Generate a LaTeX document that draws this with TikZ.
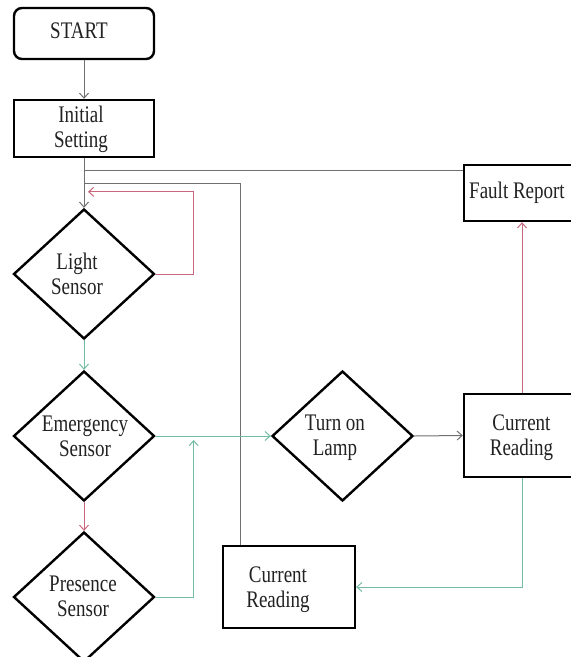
\documentclass[tikz,border=0pt]{standalone}
\usepackage{fontspec}
\setmainfont{Liberation Serif}
\usetikzlibrary{shapes.geometric,arrows.meta,calc}
\definecolor{cgray}{HTML}{707070}
\definecolor{cred}{HTML}{C8687E}
\definecolor{cgreen}{HTML}{74BCA6}
\definecolor{ctext}{HTML}{222222}
\newcommand\tx[1]{\scalebox{1}[1.25]{\begin{tabular}{@{}c@{}}#1\end{tabular}}}
\tikzset{
  box/.style={draw=black, line width=2.4pt, rectangle, inner sep=0pt},
  dia/.style={draw=black, line width=2.4pt, diamond, inner sep=0pt, minimum width=141pt, minimum height=130pt},
  conn/.style={line width=1pt, -{Straight Barb[length=5pt,width=9pt]}},
  plain/.style={line width=1pt},
  txt/.style={text=ctext, font=\fontsize{19}{20}\selectfont}
}
\begin{document}
\begin{tikzpicture}[x=1pt,y=-1pt]
\useasboundingbox (0,0) rectangle (571,657);
\fill[white] (0,0) rectangle (571,657);
% nodes
\node[box, rounded corners=8pt, minimum width=140pt, minimum height=51pt] (start) at (84,33.5) {};
\node[txt] (tstart) at (79,33) {\tx{START}};
\node[box, minimum width=140pt, minimum height=57pt] (init) at (84,128.5) {};
\node[txt] (tinit) at (81,130) {\tx{Initial\\Setting}};
\node[dia] (light) at (84,274) {};
\node[txt] (tlight) at (77,277) {\tx{Light\\Sensor}};
\node[dia] (emerg) at (84,436) {};
\node[txt] (temerg) at (85,439) {\tx{Emergency\\Sensor}};
\node[dia] (pres) at (84,597) {};
\node[txt] (tpres) at (83,599) {\tx{Presence\\Sensor}};
\node[dia] (lamp) at (342.5,436) {};
\node[txt] (tlamp) at (335,438) {\tx{Turn on\\Lamp}};
\node[box, minimum width=116pt, minimum height=56pt] (fault) at (522,193) {};
\node[txt] (tfault) at (517,193) {\tx{Fault Report}};
\node[box, minimum width=116pt, minimum height=83pt] (crr) at (522,435.5) {};
\node[txt] (tcrr) at (521.5,438) {\tx{Current\\Reading}};
\node[box, minimum width=132pt, minimum height=82pt] (crl) at (289,587) {};
\node[txt] (tcrl) at (278,590) {\tx{Current\\Reading}};
% connectors
\draw[conn, cgray] (start.south) -- (init.north);
\draw[conn, cgray] (init.south) -- (light.north);
\coordinate (fj) at ($(fault.north west)+(0,7)$);
\draw[plain, cgray] (fj) -- (fj -| init.south);
\coordinate (cj) at ($(crl.north west)+(19,0)$);
\draw[plain, cgray] (cj) -- ($(cj|-init.south)+(0,25)$) -- ($(init.south)+(0,25)$);
\draw[conn, cred] (light.east) -- ++(38,0) |- ($(light.north)+(4,-16)$);
\draw[conn, cgreen] (light.south) -- (emerg.north);
\draw[conn, cred] (emerg.south) -- (pres.north);
\draw[conn, cgreen] (pres.east) -- ++(38,0) -- ($(emerg.east)+(38,4)$);
\draw[conn, cgreen] (emerg.east) -- (lamp.west);
\draw[conn, cgray] (lamp.east) -- (crr.west);
\draw[conn, cred] (crr.north) -- (fault.south);
\draw[conn, cgreen] (crr.south) |- (crl.east);
\end{tikzpicture}
\end{document}
